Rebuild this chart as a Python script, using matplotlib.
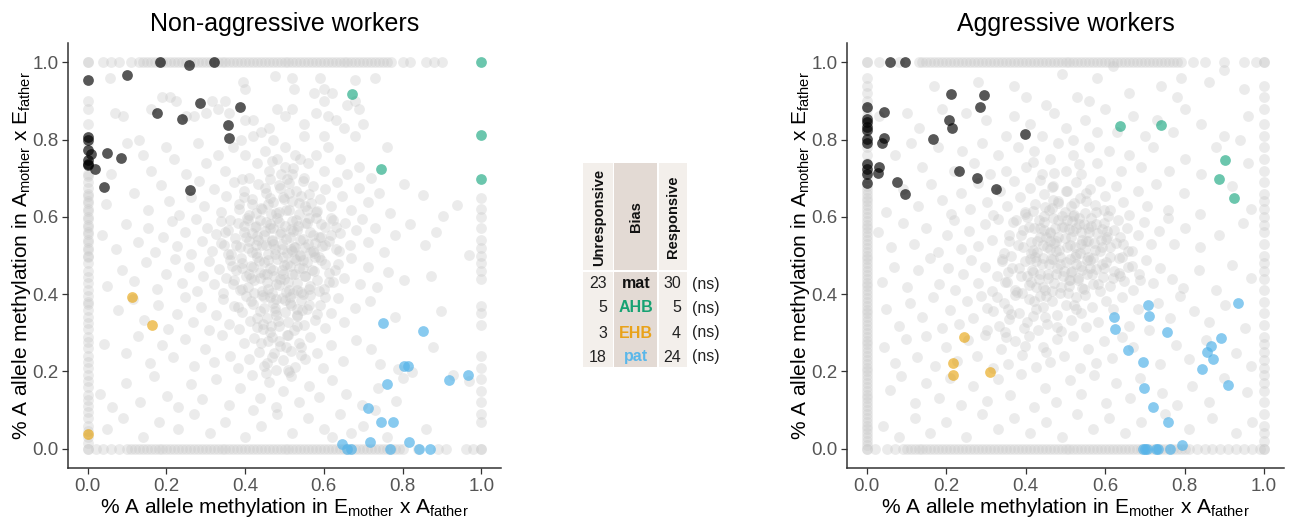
import matplotlib
matplotlib.use("Agg")
import matplotlib.pyplot as plt
from matplotlib.patches import Rectangle

plt.rcParams['font.family'] = ['Liberation Sans', 'DejaVu Sans']
plt.rcParams['mathtext.fontset'] = 'custom'
plt.rcParams['mathtext.rm'] = 'Liberation Sans'

# ---------------- Non-aggressive workers ----------------
na_mat = [(0.183, 1.0), (0.258, 0.992), (0.320, 1.0), (0.101, 0.968), (0.0, 0.953),
          (0.285, 0.896), (0.386, 0.884), (0.177, 0.870), (0.239, 0.853), (0.356, 0.838),
          (0.358, 0.804), (0.0, 0.807), (0.0, 0.800), (0.0, 0.774), (0.008, 0.762),
          (0.048, 0.766), (0.084, 0.753), (0.0, 0.748), (0.0, 0.738), (0.0, 0.733),
          (0.018, 0.725), (0.041, 0.677), (0.261, 0.670)]
na_ahb = [(1.0, 1.0), (0.671, 0.917), (1.0, 0.813), (0.745, 0.723), (1.0, 0.698)]
na_ehb = [(0.113, 0.393), (0.163, 0.319), (0.0, 0.037)]
na_pat = [(0.751, 0.325), (0.852, 0.305), (0.804, 0.215), (0.814, 0.213), (0.761, 0.168),
          (0.917, 0.177), (0.965, 0.191), (0.713, 0.106), (0.745, 0.068), (0.775, 0.068),
          (0.645, 0.011), (0.660, 0.0), (0.670, 0.0), (0.717, 0.017), (0.769, 0.0),
          (0.817, 0.017), (0.841, 0.0), (0.870, 0.0)]

na_bottom_x = [0.0, 0.02, 0.04, 0.06, 0.08, 0.1, 0.11, 0.12, 0.13, 0.14, 0.15, 0.16, 0.17,
               0.18, 0.19, 0.2, 0.21, 0.22, 0.23, 0.24, 0.25, 0.26, 0.27, 0.28, 0.29, 0.3,
               0.31, 0.32, 0.33, 0.34, 0.35, 0.36, 0.37, 0.38, 0.39, 0.4, 0.41, 0.42, 0.43,
               0.44, 0.45, 0.46, 0.47, 0.48, 0.49, 0.5, 0.51, 0.52, 0.53, 0.54, 0.55, 0.56,
               0.57, 0.58, 0.59, 0.6, 0.61, 0.62, 0.63, 0.64, 0.65, 0.66, 0.67, 0.68, 0.69,
               0.7, 0.71, 0.72, 0.73, 0.74, 0.75, 0.76, 0.77, 0.78, 0.79, 0.8, 0.84, 0.89,
               0.91, 0.96, 0.98, 1.0]
na_top_x = [0.0, 0.04, 0.06, 0.08, 0.11, 0.13, 0.14, 0.15, 0.16, 0.17, 0.18, 0.19, 0.2,
            0.21, 0.22, 0.23, 0.24, 0.25, 0.26, 0.27, 0.28, 0.29, 0.3, 0.31, 0.32, 0.33,
            0.34, 0.35, 0.36, 0.37, 0.38, 0.39, 0.4, 0.41, 0.42, 0.43, 0.44, 0.45, 0.46,
            0.47, 0.48, 0.49, 0.5, 0.51, 0.52, 0.53, 0.54, 0.55, 0.56, 0.57, 0.58, 0.59,
            0.6, 0.61, 0.62, 0.63, 0.64, 0.65, 0.66, 0.67, 0.68, 0.69, 0.7, 0.71, 0.72,
            0.73, 0.74, 0.75, 0.76, 0.77, 0.8, 0.82, 0.86, 0.88, 0.9]
na_left_y = [0.0, 0.015, 0.03, 0.045, 0.06, 0.08, 0.095, 0.11, 0.125, 0.14, 0.16, 0.175,
             0.19, 0.21, 0.225, 0.24, 0.26, 0.275, 0.29, 0.31, 0.325, 0.34, 0.36, 0.375,
             0.38, 0.395, 0.41, 0.43, 0.445, 0.46, 0.48, 0.495, 0.5, 0.515, 0.52, 0.535,
             0.54, 0.555, 0.56, 0.575, 0.58, 0.595, 0.6, 0.615, 0.62, 0.635, 0.64, 0.655,
             0.66, 0.675, 0.69, 0.705, 0.71, 0.79, 0.84, 0.88, 0.9, 1.0]
na_right_y = [0.0, 0.07, 0.09, 0.12, 0.15, 0.18, 0.21, 0.24, 0.32, 0.35, 0.37, 0.44, 0.46,
              0.48, 0.5, 0.52, 0.54, 0.57, 0.6, 0.62, 0.65]
na_cloud = [
    # 0.9 - 1.0
    (0.057, 0.96), (0.19, 0.91), (0.225, 0.9), (0.315, 0.9), (0.35, 0.9), (0.395, 0.95),
    (0.4, 0.93), (0.475, 0.965), (0.52, 0.96), (0.525, 0.93), (0.575, 0.92), (0.59, 0.96),
    (0.6, 0.93), (0.62, 0.92), (0.68, 0.955), (0.68, 0.9), (0.73, 0.96), (0.69, 0.88),
    # 0.8 - 0.9
    (0.07, 0.87), (0.09, 0.86), (0.16, 0.88), (0.21, 0.91), (0.25, 0.86), (0.27, 0.86),
    (0.3, 0.87), (0.33, 0.88), (0.36, 0.87), (0.4, 0.85), (0.42, 0.85), (0.44, 0.82),
    (0.46, 0.83), (0.48, 0.88), (0.5, 0.86), (0.52, 0.88), (0.55, 0.84), (0.58, 0.87),
    (0.6, 0.9), (0.61, 0.86), (0.63, 0.85), (0.65, 0.83), (0.7, 0.84), (0.66, 0.89),
    (0.68, 0.81), (0.6, 0.81), (0.55, 0.81), (0.47, 0.8), (0.42, 0.81), (0.39, 0.8),
    # 0.7 - 0.8
    (0.1, 0.79), (0.13, 0.8), (0.14, 0.76), (0.2, 0.78), (0.22, 0.75), (0.28, 0.79),
    (0.3, 0.74), (0.33, 0.76), (0.35, 0.72), (0.37, 0.78), (0.4, 0.76), (0.43, 0.74),
    (0.45, 0.77), (0.46, 0.72), (0.48, 0.75), (0.5, 0.73), (0.5, 0.78), (0.52, 0.71),
    (0.54, 0.75), (0.56, 0.74), (0.58, 0.76), (0.6, 0.72), (0.61, 0.78), (0.64, 0.75),
    (0.66, 0.71), (0.69, 0.73), (0.72, 0.7), (0.76, 0.78), (0.06, 0.71), (0.16, 0.72),
    (0.25, 0.71), (0.41, 0.7), (0.55, 0.7), (0.468, 0.744), (0.527, 0.759), (0.492, 0.712),
    # 0.6 - 0.7
    (0.047, 0.634), (0.118, 0.662), (0.153, 0.617), (0.186, 0.683), (0.207, 0.641),
    (0.231, 0.606), (0.262, 0.652), (0.284, 0.694), (0.296, 0.628), (0.322, 0.671),
    (0.339, 0.612), (0.352, 0.655), (0.371, 0.689), (0.384, 0.633), (0.397, 0.668),
    (0.409, 0.604), (0.418, 0.647), (0.432, 0.684), (0.441, 0.623), (0.453, 0.662),
    (0.462, 0.698), (0.471, 0.639), (0.479, 0.609), (0.488, 0.676), (0.496, 0.651),
    (0.503, 0.617), (0.511, 0.687), (0.519, 0.642), (0.528, 0.666), (0.537, 0.608),
    (0.546, 0.693), (0.553, 0.629), (0.561, 0.658), (0.572, 0.681), (0.583, 0.614),
    (0.591, 0.646), (0.604, 0.672), (0.618, 0.627), (0.633, 0.691), (0.647, 0.653),
    (0.668, 0.619), (0.689, 0.674), (0.713, 0.638), (0.741, 0.662), (0.768, 0.609),
    (0.804, 0.686), (0.853, 0.657), (0.902, 0.603), (0.938, 0.632), (0.427, 0.611),
    (0.507, 0.697), (0.458, 0.633), (0.542, 0.654), (0.392, 0.697),
    # 0.5 - 0.6
    (0.036, 0.553), (0.071, 0.518), (0.098, 0.582), (0.127, 0.536), (0.152, 0.571),
    (0.171, 0.508), (0.192, 0.547), (0.213, 0.589), (0.228, 0.524), (0.247, 0.561),
    (0.263, 0.503), (0.276, 0.594), (0.291, 0.537), (0.304, 0.572), (0.317, 0.512),
    (0.326, 0.556), (0.338, 0.589), (0.347, 0.528), (0.356, 0.566), (0.364, 0.503),
    (0.373, 0.546), (0.381, 0.584), (0.388, 0.521), (0.396, 0.562), (0.404, 0.597),
    (0.411, 0.538), (0.418, 0.509), (0.424, 0.574), (0.431, 0.551), (0.437, 0.591),
    (0.444, 0.526), (0.451, 0.563), (0.457, 0.504), (0.463, 0.582), (0.469, 0.541),
    (0.476, 0.517), (0.482, 0.598), (0.488, 0.556), (0.494, 0.529), (0.501, 0.576),
    (0.507, 0.507), (0.513, 0.548), (0.519, 0.589), (0.526, 0.523), (0.532, 0.567),
    (0.539, 0.502), (0.546, 0.543), (0.552, 0.584), (0.559, 0.531), (0.566, 0.561),
    (0.573, 0.512), (0.581, 0.596), (0.588, 0.549), (0.596, 0.524), (0.604, 0.573),
    (0.613, 0.538), (0.622, 0.591), (0.631, 0.516), (0.642, 0.557), (0.654, 0.583),
    (0.667, 0.528), (0.681, 0.566), (0.697, 0.594), (0.712, 0.534), (0.731, 0.571),
    (0.752, 0.508), (0.781, 0.553), (0.818, 0.581), (0.857, 0.527), (0.884, 0.561),
    (0.968, 0.502), (0.472, 0.571), (0.518, 0.512), (0.427, 0.527), (0.563, 0.596),
    # 0.4 - 0.5
    (0.048, 0.421), (0.087, 0.463), (0.118, 0.434), (0.149, 0.482), (0.176, 0.413),
    (0.198, 0.452), (0.221, 0.491), (0.239, 0.428), (0.258, 0.469), (0.277, 0.407),
    (0.293, 0.447), (0.308, 0.486), (0.322, 0.426), (0.334, 0.466), (0.343, 0.404),
    (0.352, 0.443), (0.361, 0.489), (0.369, 0.427), (0.377, 0.462), (0.386, 0.411),
    (0.393, 0.481), (0.401, 0.446), (0.408, 0.418), (0.416, 0.473), (0.423, 0.436),
    (0.429, 0.497), (0.437, 0.457), (0.443, 0.409), (0.449, 0.484), (0.456, 0.431),
    (0.462, 0.468), (0.468, 0.402), (0.474, 0.447), (0.481, 0.491), (0.487, 0.424),
    (0.493, 0.463), (0.499, 0.438), (0.506, 0.479), (0.512, 0.412), (0.518, 0.452),
    (0.524, 0.494), (0.531, 0.429), (0.537, 0.467), (0.543, 0.405), (0.551, 0.446),
    (0.558, 0.483), (0.566, 0.421), (0.574, 0.461), (0.583, 0.437), (0.592, 0.488),
    (0.601, 0.414), (0.612, 0.456), (0.624, 0.432), (0.637, 0.478), (0.651, 0.441),
    (0.668, 0.493), (0.691, 0.426), (0.712, 0.471), (0.734, 0.419), (0.762, 0.458),
    (0.803, 0.437), (0.872, 0.448), (0.447, 0.452), (0.503, 0.406), (0.539, 0.498),
    (0.416, 0.441), (0.577, 0.496),
    # 0.3 - 0.4
    (0.078, 0.358), (0.116, 0.387), (0.142, 0.334), (0.178, 0.372), (0.203, 0.311),
    (0.226, 0.349), (0.248, 0.393), (0.268, 0.327), (0.287, 0.366), (0.309, 0.306),
    (0.326, 0.346), (0.343, 0.388), (0.358, 0.324), (0.371, 0.369), (0.384, 0.309),
    (0.393, 0.353), (0.402, 0.396), (0.412, 0.331), (0.421, 0.374), (0.429, 0.314),
    (0.438, 0.357), (0.447, 0.392), (0.455, 0.338), (0.463, 0.301), (0.471, 0.377),
    (0.479, 0.346), (0.487, 0.318), (0.494, 0.389), (0.502, 0.354), (0.509, 0.327),
    (0.517, 0.371), (0.524, 0.306), (0.532, 0.343), (0.541, 0.384), (0.549, 0.321),
    (0.557, 0.362), (0.566, 0.397), (0.577, 0.334), (0.589, 0.373), (0.603, 0.312),
    (0.618, 0.352), (0.636, 0.389), (0.652, 0.327), (0.679, 0.364), (0.718, 0.381),
    (0.781, 0.342), (0.898, 0.357), (0.476, 0.363), (0.513, 0.392), (0.446, 0.323),
    (0.532, 0.362),
    # 0.2 - 0.3
    (0.041, 0.272), (0.097, 0.248), (0.128, 0.291), (0.158, 0.223), (0.189, 0.268),
    (0.218, 0.237), (0.247, 0.284), (0.271, 0.213), (0.298, 0.258), (0.321, 0.224),
    (0.342, 0.293), (0.362, 0.241), (0.381, 0.208), (0.396, 0.273), (0.409, 0.232),
    (0.423, 0.287), (0.436, 0.251), (0.448, 0.214), (0.459, 0.279), (0.469, 0.238),
    (0.478, 0.203), (0.488, 0.266), (0.497, 0.229), (0.506, 0.294), (0.516, 0.253),
    (0.526, 0.211), (0.537, 0.274), (0.551, 0.232), (0.566, 0.289), (0.583, 0.247),
    (0.598, 0.208), (0.617, 0.268), (0.648, 0.228), (0.681, 0.281), (0.719, 0.258),
    (0.742, 0.218), (0.788, 0.207), (0.823, 0.198), (0.877, 0.262), (0.927, 0.192),
    (0.503, 0.262), (0.468, 0.289), (0.541, 0.242),
    # 0.1 - 0.2
    (0.031, 0.142), (0.061, 0.108), (0.098, 0.171), (0.132, 0.122), (0.168, 0.188),
    (0.201, 0.137), (0.229, 0.109), (0.262, 0.168), (0.291, 0.128), (0.327, 0.181),
    (0.358, 0.113), (0.387, 0.158), (0.418, 0.191), (0.437, 0.132), (0.461, 0.172),
    (0.478, 0.108), (0.497, 0.149), (0.516, 0.187), (0.538, 0.121), (0.561, 0.162),
    (0.588, 0.134), (0.621, 0.178), (0.657, 0.141), (0.698, 0.112), (0.738, 0.157),
    (0.782, 0.123), (0.801, 0.183), (0.968, 0.176), (0.452, 0.197), (0.508, 0.203),
    # 0.0 - 0.1
    (0.05, 0.05), (0.09, 0.08), (0.14, 0.03), (0.18, 0.07), (0.23, 0.05), (0.27, 0.09),
    (0.31, 0.04), (0.35, 0.07), (0.4, 0.03), (0.44, 0.06), (0.48, 0.09), (0.52, 0.04),
    (0.56, 0.08), (0.6, 0.05), (0.64, 0.09), (0.67, 0.04), (0.7, 0.06), (0.73, 0.1),
    (0.76, 0.03), (0.86, 0.05), (0.42, 0.1), (0.62, 0.03)]
# extra points filling the dense central mass
na_core = [
    (0.452, 0.587), (0.531, 0.412), (0.389, 0.493), (0.577, 0.532), (0.466, 0.318),
    (0.512, 0.663), (0.423, 0.402), (0.604, 0.478), (0.348, 0.562), (0.497, 0.452),
    (0.558, 0.617), (0.441, 0.273), (0.533, 0.347), (0.384, 0.621), (0.619, 0.553),
    (0.476, 0.503), (0.418, 0.559), (0.547, 0.489), (0.502, 0.384), (0.463, 0.648),
    (0.587, 0.407), (0.372, 0.436), (0.528, 0.593), (0.449, 0.364), (0.491, 0.561),
    (0.563, 0.372), (0.407, 0.519), (0.638, 0.512), (0.479, 0.427), (0.521, 0.726),
    (0.434, 0.487), (0.592, 0.581), (0.356, 0.503), (0.508, 0.293), (0.468, 0.537),
    (0.551, 0.448), (0.397, 0.577), (0.487, 0.612), (0.429, 0.338), (0.572, 0.553),
    (0.516, 0.517), (0.458, 0.413), (0.612, 0.432), (0.383, 0.367), (0.537, 0.636),
    (0.474, 0.247), (0.443, 0.621), (0.564, 0.508), (0.499, 0.476), (0.411, 0.452),
    (0.583, 0.348), (0.522, 0.563), (0.361, 0.592), (0.454, 0.527), (0.548, 0.401),
    (0.486, 0.682), (0.427, 0.577), (0.603, 0.527), (0.515, 0.377), (0.471, 0.463),
    (0.393, 0.413), (0.539, 0.541), (0.446, 0.309), (0.568, 0.637), (0.494, 0.517),
    (0.418, 0.633), (0.629, 0.463), (0.478, 0.387), (0.526, 0.452), (0.402, 0.547),
    (0.557, 0.583), (0.463, 0.572), (0.511, 0.617), (0.437, 0.442), (0.588, 0.497),
    (0.483, 0.331), (0.542, 0.264), (0.376, 0.528), (0.504, 0.542), (0.459, 0.489),
    (0.617, 0.598), (0.529, 0.489), (0.415, 0.382), (0.571, 0.462), (0.487, 0.587),
    (0.448, 0.553), (0.552, 0.522), (0.392, 0.468), (0.508, 0.432), (0.466, 0.607),
    (0.534, 0.577), (0.427, 0.507), (0.593, 0.547), (0.476, 0.357), (0.521, 0.403),
    (0.367, 0.472), (0.499, 0.647), (0.442, 0.398), (0.579, 0.613), (0.513, 0.472),
    (0.456, 0.453), (0.544, 0.358), (0.408, 0.593), (0.632, 0.573), (0.487, 0.278),
    (0.523, 0.523), (0.451, 0.676), (0.561, 0.413), (0.419, 0.471), (0.497, 0.497),
    (0.338, 0.532), (0.604, 0.392), (0.472, 0.529), (0.548, 0.467), (0.433, 0.541),
    (0.517, 0.568), (0.489, 0.438), (0.574, 0.506), (0.463, 0.393), (0.398, 0.651),
    (0.531, 0.318), (0.456, 0.223), (0.512, 0.198)]

# ---------------- Aggressive workers ----------------
ag_mat = [(0.057, 1.0), (0.097, 1.0), (0.0, 0.884), (0.0, 0.854), (0.0, 0.846), (0.0, 0.833),
          (0.0, 0.824), (0.0, 0.802), (0.0, 0.790), (0.0, 0.736), (0.0, 0.725), (0.0, 0.712),
          (0.0, 0.688), (0.044, 0.871), (0.044, 0.805), (0.039, 0.792), (0.031, 0.729),
          (0.027, 0.714), (0.077, 0.690), (0.097, 0.658), (0.211, 0.917), (0.295, 0.915),
          (0.284, 0.884), (0.206, 0.850), (0.214, 0.831), (0.167, 0.802), (0.397, 0.814),
          (0.233, 0.718), (0.277, 0.701), (0.326, 0.673)]
ag_ahb = [(0.636, 0.836), (0.740, 0.839), (0.902, 0.748), (0.887, 0.697), (0.923, 0.650)]
ag_ehb = [(0.245, 0.289), (0.218, 0.223), (0.218, 0.190), (0.310, 0.198)]
ag_pat = [(0.622, 0.342), (0.624, 0.311), (0.707, 0.373), (0.711, 0.343), (0.755, 0.302),
          (0.657, 0.256), (0.695, 0.225), (0.697, 0.157), (0.721, 0.107), (0.759, 0.069),
          (0.933, 0.378), (0.891, 0.287), (0.867, 0.265), (0.857, 0.250), (0.872, 0.231),
          (0.844, 0.206), (0.910, 0.164), (0.695, 0.0), (0.701, 0.0), (0.705, 0.0),
          (0.727, 0.0), (0.734, 0.0), (0.763, 0.0), (0.794, 0.009)]

ag_bottom_x = [0.0, 0.02, 0.05, 0.07, 0.09, 0.1, 0.11, 0.12, 0.13, 0.14, 0.15, 0.16, 0.17,
               0.18, 0.19, 0.2, 0.21, 0.22, 0.23, 0.24, 0.25, 0.26, 0.27, 0.28, 0.29, 0.3,
               0.31, 0.32, 0.33, 0.34, 0.35, 0.36, 0.37, 0.38, 0.39, 0.4, 0.41, 0.42, 0.43,
               0.44, 0.45, 0.46, 0.47, 0.48, 0.49, 0.5, 0.51, 0.52, 0.53, 0.54, 0.55, 0.56,
               0.57, 0.58, 0.59, 0.6, 0.61, 0.62, 0.63, 0.64, 0.65, 0.66, 0.67, 0.68, 0.69,
               0.7, 0.71, 0.72, 0.73, 0.74, 0.75, 0.76, 0.77, 0.78, 0.79, 0.8, 0.81, 0.83,
               0.85, 0.87, 0.89, 0.91, 0.93, 0.95, 0.97, 0.99, 1.0]
ag_top_x = [0.0, 0.03, 0.08, 0.13, 0.14, 0.15, 0.16, 0.17, 0.18, 0.19, 0.2, 0.21, 0.22,
            0.23, 0.24, 0.25, 0.26, 0.27, 0.28, 0.29, 0.3, 0.31, 0.32, 0.33, 0.34, 0.35,
            0.36, 0.37, 0.38, 0.39, 0.4, 0.41, 0.42, 0.43, 0.44, 0.45, 0.46, 0.47, 0.48,
            0.49, 0.5, 0.51, 0.52, 0.53, 0.54, 0.55, 0.56, 0.57, 0.58, 0.59, 0.6, 0.61,
            0.62, 0.63, 0.64, 0.65, 0.66, 0.67, 0.68, 0.69, 0.7, 0.71, 0.72, 0.73, 0.74,
            0.75, 0.76, 0.77, 0.78, 0.79, 0.82, 0.85, 0.9, 0.95, 0.98, 1.0]
ag_left_y = [0.0, 0.01, 0.02, 0.03, 0.04, 0.05, 0.06, 0.07, 0.08, 0.09, 0.1, 0.11, 0.12,
             0.13, 0.14, 0.15, 0.16, 0.17, 0.18, 0.19, 0.2, 0.21, 0.22, 0.23, 0.24, 0.25,
             0.26, 0.27, 0.28, 0.29, 0.3, 0.31, 0.32, 0.33, 0.34, 0.35, 0.36, 0.37, 0.38,
             0.39, 0.4, 0.41, 0.42, 0.43, 0.44, 0.45, 0.46, 0.47, 0.48, 0.49, 0.5, 0.51,
             0.52, 0.53, 0.54, 0.55, 0.56, 0.57, 0.58, 0.59, 0.6, 0.61, 0.62, 0.63, 0.64,
             0.65, 0.66, 0.67, 0.68, 0.7, 0.72, 0.74, 0.76, 0.78, 0.8, 0.82, 0.84, 0.86,
             0.88, 0.9, 0.92, 0.94, 0.96, 1.0]
ag_right_y = [0.0, 0.02, 0.04, 0.06, 0.09, 0.12, 0.15, 0.17, 0.19, 0.21, 0.23, 0.25, 0.27,
              0.29, 0.32, 0.35, 0.38, 0.41, 0.44, 0.46, 0.48, 0.5, 0.53, 0.56, 0.58, 0.6,
              0.62, 0.64, 0.66, 0.69, 0.72, 0.75, 0.78, 0.81, 0.84, 0.88, 0.91, 0.94, 1.0]
ag_cloud = [
    # 0.9 - 1.0
    (0.17, 0.94), (0.28, 0.95), (0.37, 0.94), (0.4, 0.91), (0.53, 0.91), (0.58, 0.96),
    (0.66, 0.92), (0.74, 0.94), (0.79, 0.96), (0.86, 0.95), (0.9, 0.98), (0.95, 0.93),
    (0.49, 0.97), (0.62, 0.99), (0.78, 0.91),
    # 0.8 - 0.9
    (0.03, 0.86), (0.1, 0.87), (0.13, 0.83), (0.19, 0.88), (0.25, 0.87), (0.3, 0.85),
    (0.35, 0.81), (0.37, 0.86), (0.41, 0.84), (0.44, 0.81), (0.47, 0.87), (0.5, 0.83),
    (0.52, 0.8), (0.55, 0.85), (0.58, 0.82), (0.6, 0.88), (0.63, 0.82), (0.67, 0.86),
    (0.7, 0.81), (0.73, 0.85), (0.77, 0.82), (0.8, 0.88), (0.84, 0.84), (0.9, 0.81),
    (0.94, 0.8), (0.96, 0.86), (0.45, 0.89), (0.56, 0.9),
    # 0.7 - 0.8
    (0.07, 0.76), (0.11, 0.79), (0.14, 0.73), (0.18, 0.78), (0.22, 0.72), (0.24, 0.77),
    (0.27, 0.74), (0.29, 0.79), (0.31, 0.71), (0.33, 0.76), (0.35, 0.72), (0.38, 0.78),
    (0.4, 0.73), (0.42, 0.77), (0.44, 0.71), (0.46, 0.75), (0.48, 0.79), (0.5, 0.72),
    (0.52, 0.76), (0.54, 0.71), (0.56, 0.78), (0.58, 0.74), (0.61, 0.77), (0.64, 0.72),
    (0.66, 0.76), (0.69, 0.73), (0.72, 0.78), (0.76, 0.72), (0.8, 0.75), (0.84, 0.71),
    (0.88, 0.78), (0.96, 0.74), (0.472, 0.714), (0.534, 0.737), (0.418, 0.742),
    # 0.6 - 0.7
    (0.048, 0.612), (0.092, 0.671), (0.128, 0.628), (0.161, 0.684), (0.188, 0.643),
    (0.213, 0.607), (0.238, 0.662), (0.259, 0.621), (0.281, 0.688), (0.302, 0.639),
    (0.318, 0.604), (0.336, 0.667), (0.353, 0.628), (0.371, 0.693), (0.386, 0.651),
    (0.398, 0.612), (0.411, 0.674), (0.423, 0.634), (0.436, 0.696), (0.447, 0.658),
    (0.458, 0.617), (0.469, 0.679), (0.481, 0.641), (0.492, 0.603), (0.503, 0.668),
    (0.514, 0.627), (0.526, 0.689), (0.537, 0.648), (0.549, 0.611), (0.561, 0.673),
    (0.574, 0.632), (0.586, 0.694), (0.599, 0.655), (0.613, 0.618), (0.628, 0.681),
    (0.644, 0.638), (0.661, 0.606), (0.683, 0.668), (0.704, 0.627), (0.728, 0.684),
    (0.757, 0.619), (0.798, 0.662), (0.839, 0.608), (0.918, 0.679), (0.967, 0.621),
    (0.467, 0.623), (0.521, 0.606), (0.552, 0.662),
    # 0.5 - 0.6
    (0.028, 0.561), (0.061, 0.522), (0.091, 0.583), (0.118, 0.531), (0.149, 0.572),
    (0.178, 0.509), (0.201, 0.553), (0.219, 0.592), (0.238, 0.518), (0.257, 0.563),
    (0.279, 0.524), (0.297, 0.581), (0.316, 0.541), (0.331, 0.594), (0.346, 0.507),
    (0.358, 0.552), (0.369, 0.587), (0.381, 0.526), (0.392, 0.566), (0.403, 0.599),
    (0.412, 0.534), (0.421, 0.571), (0.429, 0.508), (0.437, 0.548), (0.446, 0.586),
    (0.454, 0.521), (0.462, 0.562), (0.469, 0.597), (0.476, 0.537), (0.484, 0.513),
    (0.491, 0.574), (0.498, 0.546), (0.505, 0.591), (0.512, 0.527), (0.519, 0.563),
    (0.526, 0.504), (0.533, 0.582), (0.541, 0.541), (0.548, 0.516), (0.556, 0.572),
    (0.563, 0.597), (0.571, 0.533), (0.579, 0.558), (0.588, 0.511), (0.596, 0.584),
    (0.604, 0.547), (0.613, 0.523), (0.622, 0.566), (0.633, 0.592), (0.644, 0.529),
    (0.656, 0.571), (0.668, 0.512), (0.683, 0.554), (0.698, 0.587), (0.714, 0.529),
    (0.736, 0.563), (0.758, 0.596), (0.774, 0.531), (0.802, 0.571), (0.838, 0.522),
    (0.887, 0.552), (0.948, 0.583), (0.417, 0.513), (0.462, 0.538), (0.508, 0.568),
    (0.552, 0.538), (0.593, 0.569), (0.447, 0.567), (0.637, 0.549),
    # 0.4 - 0.5
    (0.038, 0.432), (0.069, 0.471), (0.101, 0.418), (0.128, 0.462), (0.158, 0.493),
    (0.181, 0.427), (0.203, 0.468), (0.222, 0.412), (0.241, 0.453), (0.262, 0.489),
    (0.281, 0.428), (0.297, 0.471), (0.314, 0.409), (0.328, 0.448), (0.341, 0.492),
    (0.353, 0.431), (0.366, 0.467), (0.377, 0.406), (0.388, 0.446), (0.398, 0.487),
    (0.407, 0.424), (0.416, 0.463), (0.424, 0.497), (0.433, 0.438), (0.441, 0.478),
    (0.449, 0.411), (0.457, 0.452), (0.464, 0.491), (0.472, 0.429), (0.479, 0.468),
    (0.487, 0.403), (0.494, 0.447), (0.501, 0.484), (0.508, 0.422), (0.516, 0.461),
    (0.523, 0.496), (0.531, 0.436), (0.538, 0.474), (0.546, 0.413), (0.553, 0.453),
    (0.561, 0.488), (0.569, 0.427), (0.577, 0.466), (0.586, 0.408), (0.594, 0.444),
    (0.603, 0.483), (0.613, 0.421), (0.622, 0.459), (0.634, 0.494), (0.646, 0.434),
    (0.658, 0.471), (0.671, 0.412), (0.686, 0.452), (0.703, 0.489), (0.719, 0.428),
    (0.738, 0.467), (0.768, 0.438), (0.797, 0.417), (0.837, 0.463), (0.878, 0.411),
    (0.919, 0.476), (0.968, 0.442), (0.468, 0.491), (0.512, 0.437), (0.557, 0.497),
    (0.427, 0.418), (0.596, 0.468), (0.636, 0.448),
    # 0.3 - 0.4
    (0.048, 0.362), (0.082, 0.318), (0.109, 0.378), (0.138, 0.341), (0.167, 0.392),
    (0.188, 0.312), (0.209, 0.358), (0.231, 0.323), (0.251, 0.381), (0.268, 0.339),
    (0.287, 0.394), (0.303, 0.308), (0.318, 0.356), (0.332, 0.318), (0.346, 0.377),
    (0.359, 0.336), (0.372, 0.397), (0.384, 0.351), (0.396, 0.312), (0.408, 0.388),
    (0.419, 0.343), (0.431, 0.306), (0.443, 0.366), (0.454, 0.324), (0.466, 0.383),
    (0.478, 0.346), (0.489, 0.304), (0.501, 0.371), (0.513, 0.333), (0.526, 0.392),
    (0.538, 0.352), (0.551, 0.314), (0.566, 0.368), (0.583, 0.327), (0.601, 0.383),
    (0.619, 0.362), (0.642, 0.393), (0.661, 0.318), (0.683, 0.361), (0.711, 0.308),
    (0.734, 0.378), (0.762, 0.338), (0.789, 0.394), (0.823, 0.356), (0.861, 0.329),
    (0.902, 0.371), (0.951, 0.312), (0.478, 0.314), (0.437, 0.394), (0.527, 0.362),
    (0.356, 0.362),
    # 0.2 - 0.3
    (0.042, 0.262), (0.071, 0.221), (0.098, 0.283), (0.127, 0.238), (0.149, 0.292),
    (0.171, 0.214), (0.198, 0.262), (0.226, 0.228), (0.254, 0.281), (0.277, 0.241),
    (0.298, 0.293), (0.318, 0.208), (0.337, 0.258), (0.356, 0.219), (0.374, 0.279),
    (0.391, 0.242), (0.408, 0.291), (0.427, 0.212), (0.443, 0.264), (0.461, 0.224),
    (0.479, 0.283), (0.497, 0.239), (0.518, 0.292), (0.536, 0.208), (0.557, 0.258),
    (0.578, 0.221), (0.598, 0.279), (0.616, 0.236), (0.641, 0.288), (0.671, 0.263),
    (0.738, 0.219), (0.778, 0.268), (0.812, 0.233), (0.853, 0.281), (0.928, 0.248),
    (0.968, 0.213), (0.397, 0.267), (0.351, 0.289), (0.452, 0.251),
    # 0.1 - 0.2
    (0.058, 0.152), (0.087, 0.188), (0.121, 0.118), (0.148, 0.171), (0.182, 0.131),
    (0.209, 0.183), (0.238, 0.112), (0.268, 0.163), (0.302, 0.124), (0.329, 0.181),
    (0.361, 0.139), (0.388, 0.194), (0.421, 0.108), (0.449, 0.158), (0.477, 0.122),
    (0.512, 0.177), (0.538, 0.141), (0.571, 0.192), (0.603, 0.118), (0.628, 0.169),
    (0.662, 0.131), (0.688, 0.184), (0.742, 0.143), (0.781, 0.112), (0.819, 0.163),
    (0.861, 0.121), (0.898, 0.182), (0.958, 0.148),
    # 0.0 - 0.1
    (0.04, 0.06), (0.08, 0.03), (0.12, 0.08), (0.16, 0.04), (0.2, 0.07), (0.25, 0.03),
    (0.29, 0.09), (0.33, 0.05), (0.37, 0.08), (0.41, 0.04), (0.45, 0.07), (0.49, 0.03),
    (0.53, 0.09), (0.57, 0.05), (0.61, 0.08), (0.65, 0.04), (0.69, 0.07), (0.75, 0.09),
    (0.81, 0.05), (0.87, 0.08), (0.93, 0.04), (0.97, 0.07)]
ag_core = [
    (0.471, 0.532), (0.553, 0.488), (0.402, 0.447), (0.518, 0.603), (0.437, 0.572),
    (0.589, 0.541), (0.364, 0.498), (0.496, 0.461), (0.541, 0.417), (0.448, 0.626),
    (0.612, 0.497), (0.387, 0.553), (0.523, 0.522), (0.466, 0.409), (0.577, 0.582),
    (0.412, 0.507), (0.502, 0.667), (0.458, 0.477), (0.634, 0.456), (0.348, 0.431),
    (0.538, 0.561), (0.481, 0.593), (0.421, 0.382), (0.567, 0.451), (0.509, 0.436),
    (0.443, 0.527), (0.597, 0.617), (0.376, 0.591), (0.527, 0.478), (0.462, 0.558),
    (0.551, 0.642), (0.419, 0.616), (0.486, 0.497), (0.604, 0.563), (0.437, 0.452),
    (0.522, 0.372), (0.391, 0.402), (0.573, 0.513), (0.468, 0.643), (0.514, 0.547),
    (0.452, 0.394), (0.628, 0.532), (0.358, 0.537), (0.497, 0.573), (0.542, 0.463),
    (0.426, 0.487), (0.583, 0.427), (0.477, 0.452), (0.409, 0.573), (0.533, 0.598),
    (0.462, 0.517), (0.556, 0.537), (0.382, 0.467), (0.511, 0.491), (0.447, 0.603),
    (0.592, 0.478), (0.428, 0.538), (0.521, 0.637), (0.489, 0.418), (0.564, 0.577),
    (0.341, 0.487), (0.473, 0.572), (0.537, 0.507), (0.414, 0.431), (0.608, 0.601),
    (0.503, 0.523), (0.457, 0.442), (0.549, 0.397), (0.394, 0.523), (0.526, 0.571),
    (0.482, 0.547), (0.569, 0.493), (0.433, 0.593), (0.619, 0.441), (0.498, 0.612),
    (0.443, 0.493), (0.558, 0.561), (0.373, 0.412), (0.514, 0.457), (0.467, 0.678),
    (0.592, 0.522), (0.418, 0.458), (0.538, 0.531), (0.487, 0.478), (0.427, 0.361),
    (0.577, 0.612), (0.506, 0.403), (0.452, 0.548), (0.643, 0.497), (0.397, 0.608),
    (0.532, 0.443), (0.476, 0.512), (0.561, 0.468), (0.356, 0.458), (0.516, 0.589),
    (0.443, 0.418), (0.601, 0.542), (0.482, 0.637), (0.411, 0.492), (0.547, 0.582),
    (0.327, 0.392), (0.363, 0.348), (0.402, 0.328), (0.302, 0.363), (0.448, 0.341),
    (0.347, 0.303), (0.668, 0.473), (0.657, 0.512), (0.687, 0.437)]

# ---------------- summary table ----------------
bias_labels = ['mat', 'AHB', 'EHB', 'pat']
unresponsive = [23, 5, 3, 18]
responsive = [30, 5, 4, 24]
signif = ['(ns)', '(ns)', '(ns)', '(ns)']

colors = {'mat': '#000000', 'AHB': '#009E73', 'EHB': '#E69F00', 'pat': '#56B4E9'}
alphas = {'mat': 0.66, 'AHB': 0.58, 'EHB': 0.6, 'pat': 0.7}
text_colors = {'mat': '#111111', 'AHB': '#17a273', 'EHB': '#e9a21a', 'pat': '#5ab7ea'}
PT = 60


def xs(pts):
    return [p[0] for p in pts]


def ys(pts):
    return [p[1] for p in pts]


def panel(ax, title, cloud, core, bottom_x, top_x, left_y, right_y, groups):
    grey = dict(s=PT, c='#c8c8c8', alpha=0.36, linewidths=0, zorder=1)
    ax.scatter(bottom_x, [0.0] * len(bottom_x), **grey)
    ax.scatter(top_x, [1.0] * len(top_x), **grey)
    ax.scatter([0.0] * len(left_y), left_y, **grey)
    ax.scatter([1.0] * len(right_y), right_y, **grey)
    ax.scatter(xs(cloud), ys(cloud), **grey)
    ax.scatter(xs(core), ys(core), **grey)
    for name, pts in groups:
        ax.scatter(xs(pts), ys(pts), s=PT, c=colors[name], alpha=alphas[name],
                   linewidths=0, zorder=3)
    ax.set_xlim(-0.05, 1.05)
    ax.set_ylim(-0.05, 1.05)
    ticks = [0.0, 0.2, 0.4, 0.6, 0.8, 1.0]
    ax.set_xticks(ticks)
    ax.set_yticks(ticks)
    ax.set_xticklabels(['%.1f' % t for t in ticks])
    ax.set_yticklabels(['%.1f' % t for t in ticks])
    for s in ['top', 'right']:
        ax.spines[s].set_visible(False)
    for s in ['left', 'bottom']:
        ax.spines[s].set_color('#333333')
        ax.spines[s].set_linewidth(1.1)
    ax.tick_params(length=4, width=0.9, color='#333333', labelcolor='#555555',
                   labelsize=13.5, pad=3)
    ax.set_title(title, fontsize=18, pad=9)
    ax.set_xlabel(r'% A allele methylation in E$_\mathregular{mother}$ x A$_\mathregular{father}$',
                  fontsize=15, labelpad=1)
    ax.set_ylabel(r'% A allele methylation in A$_\mathregular{mother}$ x E$_\mathregular{father}$',
                  fontsize=15)
    ax.yaxis.set_label_coords(-0.081, 0.5)


fig = plt.figure(figsize=(12.96, 5.17), dpi=100)
W, H = 1296.0, 517.0
ax1 = fig.add_axes([68 / W, (H - 468) / H, 433 / W, 425 / H])
ax2 = fig.add_axes([847 / W, (H - 468) / H, 437 / W, 425 / H])

panel(ax1, 'Non-aggressive workers', na_cloud, na_core, na_bottom_x, na_top_x, na_left_y,
      na_right_y, [('mat', na_mat), ('AHB', na_ahb), ('EHB', na_ehb), ('pat', na_pat)])
panel(ax2, 'Aggressive workers', ag_cloud, ag_core, ag_bottom_x, ag_top_x, ag_left_y,
      ag_right_y, [('mat', ag_mat), ('AHB', ag_ahb), ('EHB', ag_ehb), ('pat', ag_pat)])

# table drawn in pixel coordinates
tab = fig.add_axes([0, 0, 1, 1])
tab.set_xlim(0, W)
tab.set_ylim(H, 0)
tab.axis('off')
tab.patch.set_alpha(0)

light, dark = '#f3efeb', '#e3dad4'
cols = [(583, 613, light), (614, 657, dark), (659, 687, light)]
for x0, x1, c in cols:
    tab.add_patch(Rectangle((x0, 163), x1 - x0, 107, fc=c, ec='none'))
    tab.add_patch(Rectangle((x0, 272), x1 - x0, 95, fc=c, ec='none'))

for xc, label in [(599, 'Unresponsive'), (636, 'Bias'), (673, 'Responsive')]:
    tab.text(xc, 217, label, rotation=90, ha='center', va='center',
             fontsize=10.5, fontweight='bold', color='#111111')

row_y = [284, 308, 333, 357]
for i, name in enumerate(bias_labels):
    y = row_y[i]
    tab.text(607, y, str(unresponsive[i]), ha='right', va='center', fontsize=11.5,
             color='#222222')
    tab.text(636, y, name, ha='center', va='center', fontsize=11.5, fontweight='bold',
             color=text_colors[name])
    tab.text(681, y, str(responsive[i]), ha='right', va='center', fontsize=11.5,
             color='#222222')
    tab.text(706, y, signif[i], ha='center', va='center', fontsize=11.5, color='#222222')

fig.savefig('out.png', dpi=100)
